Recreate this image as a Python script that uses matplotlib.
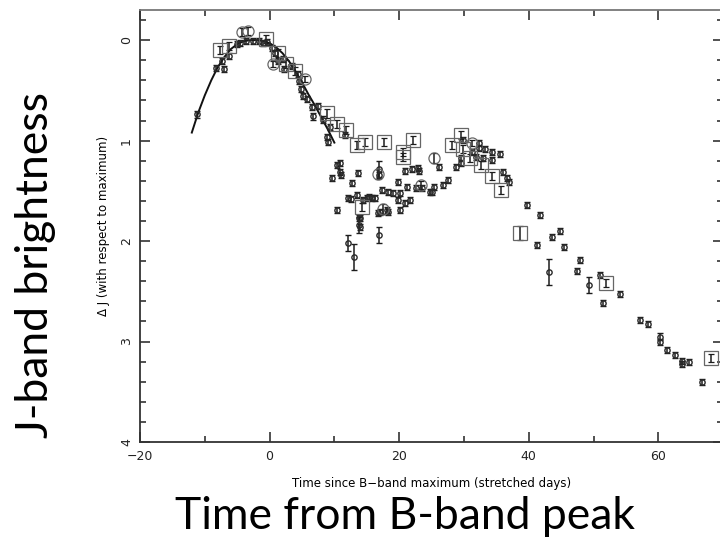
import matplotlib
matplotlib.use("Agg")
import matplotlib.pyplot as plt
from matplotlib.ticker import MultipleLocator

# template curve
curve_x = [-12, -11, -10, -9, -8, -7, -6, -5, -4, -3, -2, -1, 0, 1, 2, 3, 4, 5, 6, 7, 8, 9, 10]
curve_y = [0.92, 0.72, 0.55, 0.40, 0.27, 0.17, 0.09, 0.04, 0.01, 0.0, 0.0, 0.01, 0.03,
           0.07, 0.13, 0.21, 0.31, 0.42, 0.54, 0.65, 0.77, 0.89, 1.02]

# small circle points
small_x = [-11.2, -8.2, -7.3, -7.1, -6.2, -5.1, -4.6, -3.6, -2.6, -1.6, -1.0, -0.4, 0.3, 0.8,
           1.3, 2.1, 2.3, 3.4, 4.4, 4.6, 4.9, 5.2, 5.7, 6.5, 6.7, 7.5, 8.3, 9.3, 11.6, 8.8, 9.0,
           9.6, 10.4, 10.9, 10.9, 11.1, 13.6, 12.7, 16.9, 16.9, 19.8, 20.9, 22.0, 22.9, 23.1,
           26.2, 10.4, 12.1, 12.6, 13.5, 13.8, 13.8, 14.4, 15.3, 16.3, 17.4, 16.8, 18.3, 18.3,
           19.1, 20.2, 19.8, 20.2, 20.9, 21.7, 21.2, 22.6, 23.6, 24.8, 25.3, 26.8, 27.6, 16.9,
           12.1, 13.0, 14.0, 14.0, 15.0, 15.8, 17.1, 18.1,
           29.8, 32.3, 32.3, 33.3, 34.4, 35.5, 31.3, 31.8, 32.9, 29.5, 29.5, 28.8, 34.3, 36.1,
           36.7, 37.0, 25.1,
           39.8, 41.7, 41.2, 43.6, 44.8, 45.4, 43.1, 47.9, 47.4, 49.3, 51.0, 51.4, 54.1, 57.2,
           58.4, 60.3, 60.3, 61.4, 62.5, 63.6, 63.6, 64.7, 66.7]
small_y = [0.74, 0.28, 0.21, 0.29, 0.16, 0.04, 0.03, 0.01, 0.01, 0.01, 0.03, 0.02, 0.08, 0.13,
           0.21, 0.19, 0.29, 0.26, 0.34, 0.41, 0.49, 0.56, 0.59, 0.67, 0.76, 0.66, 0.79, 0.86, 0.94,
           0.96, 1.01,
           1.37, 1.24, 1.22, 1.31, 1.34, 1.32, 1.42, 1.28, 1.34, 1.41, 1.30, 1.28, 1.27, 1.30,
           1.26, 1.69, 1.57, 1.58, 1.54, 1.77, 1.84, 1.59, 1.56, 1.57, 1.49, 1.72, 1.71, 1.51,
           1.52, 1.52, 1.59, 1.69, 1.62, 1.59, 1.46, 1.47, 1.47, 1.51, 1.46, 1.44, 1.39, 1.94,
           2.02, 2.16, 1.86, 1.77, 1.57, 1.57, 1.71, 1.69,
           0.99, 1.02, 1.07, 1.08, 1.11, 1.13, 1.11, 1.16, 1.17, 1.17, 1.22, 1.26, 1.19, 1.31,
           1.37, 1.41, 1.51,
           1.64, 1.74, 2.04, 1.96, 1.90, 2.06, 2.31, 2.19, 2.30, 2.44, 2.34, 2.62, 2.53, 2.79,
           2.83, 2.95, 3.00, 3.08, 3.13, 3.19, 3.22, 3.20, 3.40]
small_err = [0.03] * len(small_x)
for i, (xx, yy) in enumerate(zip(small_x, small_y)):
    if (xx, yy) in [(12.1, 2.02), (16.9, 1.94), (16.9, 1.28), (13.8, 1.84), (49.3, 2.44)]:
        small_err[i] = 0.08
    if (xx, yy) in [(13.0, 2.16), (43.1, 2.31)]:
        small_err[i] = 0.13

# large squares
square_x = [-7.6, -6.3, -0.5, 1.3, 2.6, 3.9, 8.8, 10.4, 11.8, 13.5, 14.7, 17.7, 22.2, 20.6, 20.6,
            14.3, 29.6, 28.2, 29.8, 31.0, 32.7, 34.3, 35.7, 38.6, 51.9, 68.1]
square_y = [0.10, 0.06, -0.01, 0.13, 0.24, 0.31, 0.73, 0.83, 0.89, 1.04, 1.01, 1.01, 0.99, 1.11,
            1.16, 1.66, 0.94, 1.04, 1.08, 1.17, 1.24, 1.35, 1.49, 1.92, 2.42, 3.16]
square_err = [0.04] * len(square_x)
square_err[23] = 0.07

# large circles
circle_x = [-4.3, -3.4, 0.5, 5.4, 16.8, 25.3, 23.4, 17.5, 31.3]
circle_y = [-0.08, -0.09, 0.24, 0.39, 1.33, 1.17, 1.44, 1.68, 1.02]
circle_err = [0.04, 0.04, 0.03, 0.03, 0.05, 0.05, 0.04, 0.05, 0.03]

fig = plt.figure(figsize=(7.2, 5.41), dpi=100)
ax = fig.add_axes([0.1944, 0.183, 0.81, 0.7985])

mark = '#1c1c1c'
ax.plot(curve_x, curve_y, color='#111111', lw=1.4, zorder=3)
ax.errorbar(small_x, small_y, yerr=small_err, fmt='o', ms=3.8, mfc='none', mec='#2a2a2a',
            mew=1.0, ecolor=mark, elinewidth=1.1, capsize=2, capthick=1.1, zorder=4)
ax.errorbar(square_x, square_y, yerr=square_err, fmt='s', ms=9.5, mfc='none', mec='#666666',
            mew=0.9, ecolor=mark, elinewidth=1.1, capsize=2, capthick=1.1, zorder=4)
ax.errorbar(circle_x, circle_y, yerr=circle_err, fmt='o', ms=8, mfc='none', mec='#666666',
            mew=0.9, ecolor=mark, elinewidth=1.1, capsize=2, capthick=1.1, zorder=4)

ax.set_xlim(-20, 70)
ax.set_ylim(4, -0.3)
ax.xaxis.set_major_locator(MultipleLocator(20))
ax.xaxis.set_minor_locator(MultipleLocator(10))
ax.yaxis.set_major_locator(MultipleLocator(1))
ax.yaxis.set_minor_locator(MultipleLocator(0.2))
ax.tick_params(which='both', direction='in', top=True, right=True, colors='#222222',
               labelsize=9, width=1.1)
ax.tick_params(which='major', length=7)
ax.tick_params(which='minor', length=4)
ax.tick_params(axis='x', pad=6)
ax.tick_params(axis='y', pad=5)
for lab in ax.get_yticklabels():
    lab.set_rotation(90)
    lab.set_va('center')
for s in ax.spines.values():
    s.set_linewidth(1.3)
    s.set_color('#333333')
ax.spines['top'].set_color('#777777')

ax.set_xlabel('Time since B\u2212band maximum (stretched days)', fontsize=8.5, labelpad=10)
ax.set_ylabel('\u0394 J (with respect to maximum)', fontsize=8.5, labelpad=7)

fig.text(0.05, 0.51, 'J-band brightness', rotation=90, ha='center', va='center',
         fontsize=32, family=['Lato', 'DejaVu Sans'])
fig.text(0.562, 0.045, 'Time from B-band peak', ha='center', va='center',
         fontsize=32, family=['Lato', 'DejaVu Sans'])

fig.savefig('out.png', dpi=100)
